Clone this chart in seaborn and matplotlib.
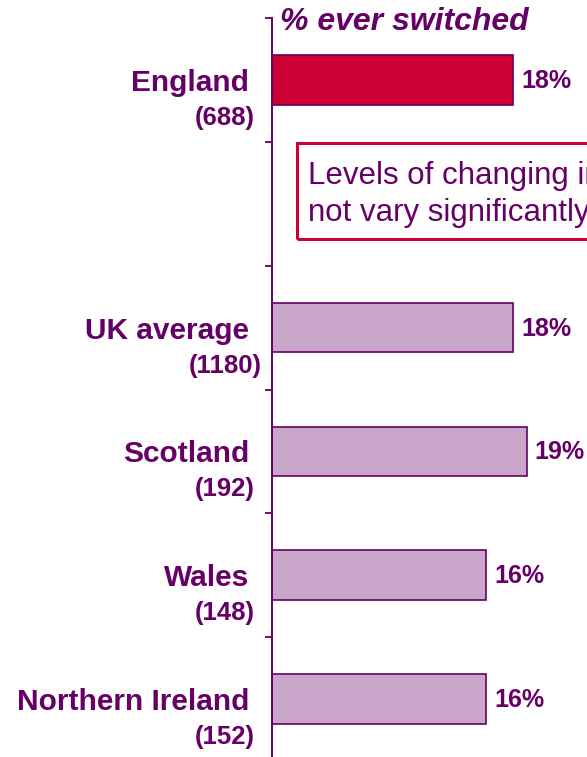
import seaborn as sns
import matplotlib.pyplot as plt
import matplotlib.patches as patches
import pandas as pd

# data
regions = ["England", "", "UK average", "Scotland", "Wales", "Northern Ireland"]
bases = ["(688)", "", "(1180)", "(192)", "(148)", "(152)"]
switched = [18, None, 18, 19, 16, 16]

purple = "#660066"
colours = {"England": "#cc0033", "": "white", "UK average": "#c9a5c9",
           "Scotland": "#c9a5c9", "Wales": "#c9a5c9", "Northern Ireland": "#c9a5c9"}

df = pd.DataFrame({"region": regions, "pct": switched})

sns.set_style("white")
plt.rcParams["font.family"] = ["Liberation Sans", "DejaVu Sans"]

W, H = 587, 757
fig = plt.figure(figsize=(W / 100, H / 100), dpi=100)
ax = fig.add_axes([272 / W, -4 / H, (W - 272) / W, 743 / H])

sns.barplot(data=df, y="region", x="pct", hue="region", order=regions,
            palette=colours, saturation=1, orient="h", width=0.4, legend=False,
            edgecolor=purple, linewidth=1.2, ax=ax)

ax.set_xlim(0, (W - 272) / 13.4)
ax.set_ylim(len(regions) - 0.5, -0.5)
ax.set_xlabel("")
ax.set_ylabel("")
ax.set_xticks([])
ax.set_yticks([i - 0.5 for i in range(len(regions))])
ax.set_yticklabels([])
ax.tick_params(axis="y", direction="out", length=5, width=1.3, color=purple, left=True)
for s in ["top", "right", "bottom"]:
    ax.spines[s].set_visible(False)
ax.spines["left"].set_color(purple)
ax.spines["left"].set_linewidth(1.4)

# category labels (name + base) and value labels
for i, (name, base, v) in enumerate(zip(regions, bases, switched)):
    if not name:
        continue
    ax.annotate(name, xy=(0, i), xycoords=("axes fraction", "data"),
                xytext=(-23, -3), textcoords="offset pixels",
                ha="right", va="center", fontsize=21.5, fontweight="bold", color=purple)
    ax.annotate(base, xy=(0, i), xycoords=("axes fraction", "data"),
                xytext=(-47, -38), textcoords="offset pixels",
                ha="center", va="center", fontsize=18.5, fontweight="bold", color=purple)
    ax.annotate(f"{v}%", xy=(v, i), xytext=(8, -1), textcoords="offset pixels",
                ha="left", va="center", fontsize=18, fontweight="bold", color=purple)

fig.text(280 / W, 1 - 22 / H, "% ever switched", ha="left", va="center",
         fontsize=23, fontweight="bold", fontstyle="italic", color=purple)

box = patches.Rectangle((297 / W, 1 - 239 / H), 500 / W, 96 / H, transform=fig.transFigure,
                        fill=False, edgecolor="#cc0033", linewidth=2.2, clip_on=False)
fig.patches.append(box)
fig.text(308 / W, 1 - 176 / H, "Levels of changing in the nations do", ha="left", va="center",
         fontsize=22.5, color=purple)
fig.text(308 / W, 1 - 213 / H, "not vary significantly", ha="left", va="center",
         fontsize=22.5, color=purple)

fig.savefig("out.png", dpi=100)
